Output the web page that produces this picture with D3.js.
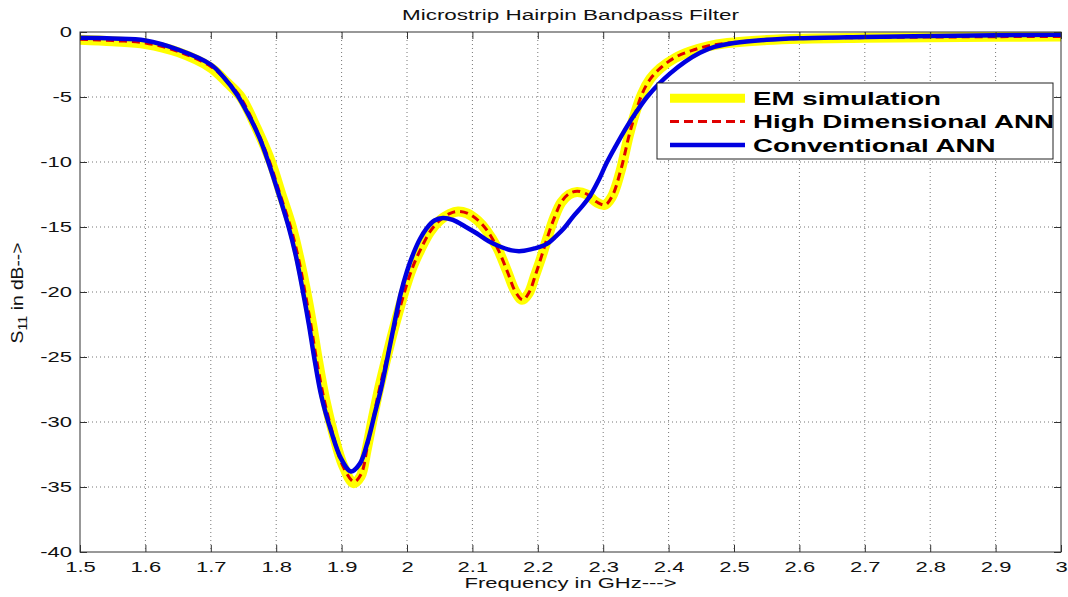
<!DOCTYPE html>
<html>
<head>
<meta charset="utf-8">
<script src="https://cdn.jsdelivr.net/npm/d3@7"></script>
<style>
  body { margin: 0; background: #fff; }
  text { font-family: Arial, "Liberation Sans", sans-serif; }
</style>
</head>
<body>
<svg id="chart" width="1068" height="597"></svg>
<script>
// EM simulation (yellow)
const emFreq = [1.5, 1.55, 1.6, 1.65, 1.7, 1.725, 1.746, 1.77, 1.792, 1.808, 1.824, 1.835, 1.846, 1.855, 1.863, 1.875, 1.888, 1.902, 1.918, 1.929, 1.938, 1.947, 1.957, 1.968, 1.979, 1.99, 2.0, 2.01, 2.02, 2.035, 2.05, 2.065, 2.078, 2.092, 2.108, 2.122, 2.138, 2.153, 2.165, 2.176, 2.186, 2.196, 2.205, 2.215, 2.225, 2.236, 2.248, 2.26, 2.275, 2.29, 2.302, 2.313, 2.326, 2.341, 2.359, 2.372, 2.387, 2.41, 2.433, 2.46, 2.49, 2.55, 2.6, 2.7, 2.8, 2.9, 3.0];
const emS11 = [-0.6, -0.72, -0.92, -1.55, -2.75, -3.9, -5, -7.4, -10, -12.5, -15, -17.3, -20, -22.5, -25, -28.3, -31, -33.3, -34.7, -34.2, -32.2, -29.9, -27.5, -25.2, -23, -21, -19.3, -17.9, -16.8, -15.4, -14.5, -14.0, -13.8, -13.95, -14.5, -15.3, -16.6, -18.4, -19.9, -20.6, -20.1, -18.7, -17.4, -15.8, -14.3, -13.1, -12.5, -12.3, -12.5, -13.1, -13.3, -12.7, -10.8, -7.6, -4.8, -3.6, -2.8, -2.0, -1.5, -1.1, -0.85, -0.62, -0.52, -0.45, -0.4, -0.37, -0.35];

// High dimensional ANN (red dashed)
const hdFreq = [1.5, 1.55, 1.6, 1.65, 1.7, 1.725, 1.745, 1.77, 1.79, 1.806, 1.822, 1.834, 1.844, 1.853, 1.861, 1.873, 1.887, 1.902, 1.919, 1.93, 1.939, 1.948, 1.958, 1.969, 1.98, 1.991, 2.001, 2.011, 2.021, 2.036, 2.051, 2.066, 2.079, 2.093, 2.109, 2.123, 2.139, 2.154, 2.166, 2.177, 2.187, 2.197, 2.206, 2.216, 2.226, 2.237, 2.249, 2.261, 2.276, 2.291, 2.303, 2.314, 2.327, 2.342, 2.36, 2.373, 2.388, 2.41, 2.434, 2.46, 2.49, 2.55, 2.6, 2.7, 2.8, 2.9, 3.0];
const hdS11 = [-0.55, -0.66, -0.84, -1.5, -2.65, -3.8, -5, -7.5, -10, -12.5, -15, -17.4, -20, -22.5, -25, -28.2, -31, -33.4, -34.6, -34.0, -32.0, -29.8, -27.4, -25.1, -22.9, -20.9, -19.2, -17.8, -16.7, -15.3, -14.45, -13.95, -13.8, -13.95, -14.5, -15.3, -16.7, -18.5, -20.0, -20.6, -20.0, -18.6, -17.2, -15.6, -14.2, -13.0, -12.4, -12.25, -12.5, -13.1, -13.3, -12.6, -10.6, -7.5, -4.7, -3.55, -2.75, -1.95, -1.45, -1.08, -0.85, -0.6, -0.5, -0.43, -0.39, -0.36, -0.34];

// Conventional ANN (blue)
const convFreq = [1.5, 1.55, 1.6, 1.65, 1.7, 1.72, 1.74, 1.76, 1.775, 1.788, 1.804, 1.819, 1.83, 1.841, 1.85, 1.858, 1.869, 1.884, 1.899, 1.914, 1.928, 1.94, 1.95, 1.96, 1.97, 1.98, 1.99, 2.0, 2.01, 2.02, 2.03, 2.042, 2.055, 2.07, 2.09, 2.107, 2.125, 2.142, 2.16, 2.175, 2.195, 2.214, 2.228, 2.24, 2.254, 2.268, 2.28, 2.293, 2.305, 2.32, 2.336, 2.35, 2.367, 2.385, 2.402, 2.425, 2.448, 2.47, 2.5, 2.55, 2.6, 2.7, 2.8, 2.9, 3.0];
const convS11 = [-0.45, -0.5, -0.65, -1.35, -2.5, -3.5, -4.8, -6.6, -8.2, -10, -12.5, -15, -17.2, -20, -22.5, -25, -28, -30.7, -32.8, -33.8, -33.2, -31.5, -29.5, -27.5, -25.1, -22.6, -20.2, -18.4, -17, -15.9, -15.1, -14.5, -14.3, -14.45, -15.0, -15.5, -16.1, -16.5, -16.8, -16.85, -16.65, -16.3, -15.7, -15.1, -14.2, -13.4, -12.6, -11.4, -10.1, -8.7, -7.3, -6.2, -5.0, -4.0, -3.2, -2.3, -1.6, -1.15, -0.85, -0.6, -0.48, -0.38, -0.3, -0.25, -0.22];

const xTicks = [1.5, 1.6, 1.7, 1.8, 1.9, 2, 2.1, 2.2, 2.3, 2.4, 2.5, 2.6, 2.7, 2.8, 2.9, 3];
const yTicks = [0, -5, -10, -15, -20, -25, -30, -35, -40];
const seriesNames = ["EM simulation", "High Dimensional ANN", "Conventional ANN"];

const titleText = "Microstrip Hairpin Bandpass Filter";
const xLabel = "Frequency in GHz--->";

// text in the original is drawn very wide; stretch along the text direction
const sx = 1.42;

const margin = { top: 32, right: 7, bottom: 45, left: 80 };
const width = 1068 - margin.left - margin.right;
const height = 597 - margin.top - margin.bottom;

const svg = d3.select('#chart');
const g = svg.append('g').attr('transform', `translate(${margin.left},${margin.top})`);

const x = d3.scaleLinear().domain([1.5, 3]).range([0, width]);
const y = d3.scaleLinear().domain([-40, 0]).range([height, 0]);

// plain hyphen like matlab, not the unicode minus
const fmt = d => String(d);

// dotted grid
g.append('g').selectAll('line').data(xTicks.slice(1, -1)).enter().append('line')
  .attr('x1', d => x(d)).attr('x2', d => x(d)).attr('y1', 0).attr('y2', height)
  .attr('stroke', '#777').attr('stroke-width', 1).attr('stroke-dasharray', '1,3');
g.append('g').selectAll('line').data(yTicks.slice(1, -1)).enter().append('line')
  .attr('y1', d => y(d)).attr('y2', d => y(d)).attr('x1', 0).attr('x2', width)
  .attr('stroke', '#777').attr('stroke-width', 1).attr('stroke-dasharray', '1,3');

g.append('clipPath').attr('id', 'plotclip').append('rect')
  .attr('width', width).attr('height', height);

const line = d3.line().x(d => x(d[0])).y(d => y(d[1])).curve(d3.curveCatmullRom.alpha(0.5));

const plot = g.append('g').attr('clip-path', 'url(#plotclip)');
plot.append('path').datum(d3.zip(emFreq, emS11)).attr('d', line)
  .attr('fill', 'none').attr('stroke', '#ffff00').attr('stroke-width', 10).attr('stroke-linejoin', 'round');
plot.append('path').datum(d3.zip(hdFreq, hdS11)).attr('d', line)
  .attr('fill', 'none').attr('stroke', '#e00000').attr('stroke-width', 3).attr('stroke-dasharray', '8,5');
plot.append('path').datum(d3.zip(convFreq, convS11)).attr('d', line)
  .attr('fill', 'none').attr('stroke', '#0000e0').attr('stroke-width', 4.5).attr('stroke-linejoin', 'round');

// axes, MATLAB style ticks pointing inward
let xAxis = g.append('g').attr('transform', `translate(0,${height})`)
  .call(d3.axisBottom(x).tickValues(xTicks).tickFormat(fmt).tickSizeInner(-7).tickSizeOuter(0).tickPadding(9));
let yAxis = g.append('g')
  .call(d3.axisLeft(y).tickValues(yTicks).tickFormat(fmt).tickSizeInner(-7).tickSizeOuter(0));
g.append('g').call(d3.axisTop(x).tickValues(xTicks).tickSizeInner(-7).tickSizeOuter(0).tickFormat(''));
g.append('g').attr('transform', `translate(${width},0)`)
  .call(d3.axisRight(y).tickValues(yTicks).tickSizeInner(-7).tickSizeOuter(0).tickFormat(''));

g.selectAll('.domain').remove();
g.selectAll('.tick line').attr('stroke', '#333');
g.selectAll('.tick text').attr('font-size', 15.5).attr('fill', '#111').attr('font-family', 'Arial, "Liberation Sans", sans-serif');
xAxis.selectAll('.tick text').attr('transform', `scale(${sx},1)`);
yAxis.selectAll('.tick text').attr('x', -8 / sx).attr('transform', `scale(${sx},1)`);

g.append('rect').attr('width', width).attr('height', height)
  .attr('fill', 'none').attr('stroke', '#333').attr('stroke-width', 1);

// title and axis labels
svg.append('text').attr('transform', `translate(${margin.left + width / 2},20) scale(1.45,1)`)
  .attr('text-anchor', 'middle').attr('font-size', 15.5).attr('fill', '#111').text(titleText);
svg.append('text').attr('transform', `translate(${margin.left + width / 2},588) scale(${sx},1)`)
  .attr('text-anchor', 'middle').attr('font-size', 15.5).attr('fill', '#111').text(xLabel);

let yl = svg.append('text').attr('transform', 'translate(23,293) rotate(-90) scale(1.2,1)')
  .attr('text-anchor', 'middle').attr('font-size', 16).attr('fill', '#111');
yl.append('tspan').text('S');
yl.append('tspan').attr('font-size', 12).attr('dy', 4).text('11');
yl.append('tspan').attr('dy', -4).text(' in dB-->');

// legend
const legendStyles = [
  { color: '#ffff00', w: 9, dash: null },
  { color: '#e00000', w: 3, dash: '9,5' },
  { color: '#0000e0', w: 4.5, dash: null }
];
const legend = svg.append('g').attr('transform', 'translate(657,83)');
legend.append('rect').attr('width', 396).attr('height', 76)
  .attr('fill', '#fff').attr('stroke', '#222').attr('stroke-width', 1);
const item = legend.selectAll('.item').data(seriesNames).enter().append('g')
  .attr('class', 'item').attr('transform', (d, i) => `translate(0,${15.3 + i * 23.3})`);
item.append('line').attr('x1', 13).attr('x2', 88).attr('y1', 0).attr('y2', 0)
  .attr('stroke', (d, i) => legendStyles[i].color)
  .attr('stroke-width', (d, i) => legendStyles[i].w)
  .attr('stroke-dasharray', (d, i) => legendStyles[i].dash);
item.append('text').attr('transform', `translate(96,6.7) scale(1.5,1)`)
  .attr('font-size', 18.5).attr('font-weight', 'bold').attr('fill', '#000').text(d => d);
</script>
</body>
</html>
